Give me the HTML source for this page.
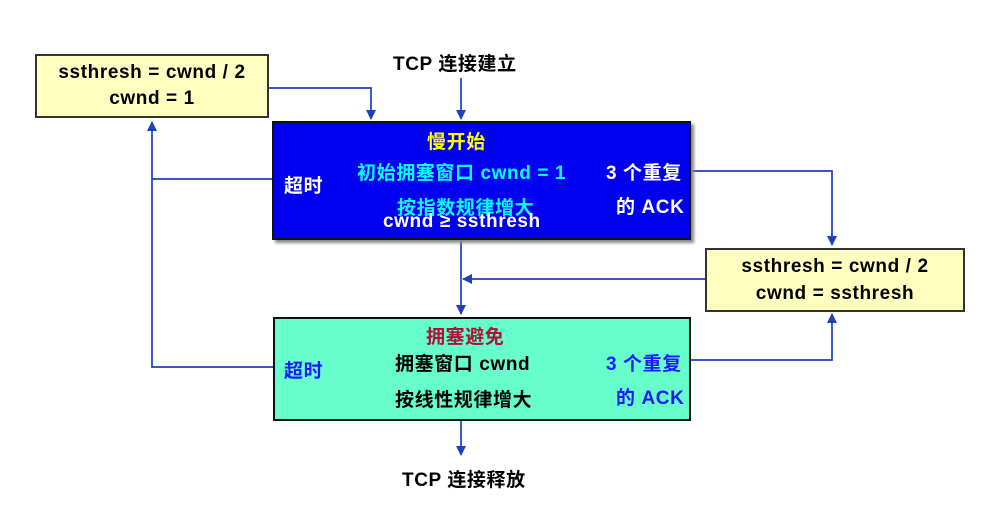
<!DOCTYPE html>
<html><head><meta charset="utf-8"><style>
body{margin:0;width:989px;height:528px;background:#fff;overflow:hidden;position:relative;font-family:"Liberation Sans","Noto Sans CJK SC",sans-serif;font-weight:bold;}
.b{position:absolute;box-sizing:border-box;border:2px solid #111;}
.t{position:absolute;white-space:nowrap;font-size:19px;letter-spacing:0.6px;}
</style></head><body>
<svg width="989" height="528" style="position:absolute;left:0;top:0">
<defs><marker id="a" viewBox="0 0 10 10" refX="9" refY="5" markerWidth="6" markerHeight="6" orient="auto"><path d="M0,0L10,5L0,10z" fill="#1f3fbf"/></marker></defs>
<g stroke="#1f3fbf" stroke-width="1.7" fill="none">
<path d="M268,88H371V119" marker-end="url(#a)"/>
<path d="M461,78V119" marker-end="url(#a)"/>
<path d="M272,179H152"/>
<path d="M273,367H152V122" marker-end="url(#a)"/>
<path d="M690,171H832V245" marker-end="url(#a)"/>
<path d="M690,360H832V314" marker-end="url(#a)"/>
<path d="M461,240V314" marker-end="url(#a)"/>
<path d="M705,279H463" marker-end="url(#a)"/>
<path d="M461,421V455" marker-end="url(#a)"/>
</g></svg>
<div class="b" style="left:35px;top:54px;width:234px;height:64px;background:#ffffc0;border-color:#333"></div>
<div class="t" style="left:35px;top:60px;width:234px;text-align:center;line-height:26px">ssthresh = cwnd / 2<br>cwnd = 1</div>
<div class="b" style="left:705px;top:248px;width:260px;height:64px;background:#ffffc0;border-color:#333"></div>
<div class="t" style="left:705px;top:253px;width:260px;text-align:center;line-height:27px">ssthresh = cwnd / 2<br>cwnd = ssthresh</div>
<div class="t" style="left:393px;top:49px">TCP 连接建立</div>
<div class="t" style="left:402px;top:465px">TCP 连接释放</div>
<div class="b" style="left:272px;top:121px;width:419px;height:119px;background:#0000f0;box-shadow:3px 3px 3px #888"></div>
<div class="t" style="left:427px;top:127px;color:#ff0">慢开始</div>
<div class="t" style="left:357px;top:158px;color:#0ff">初始拥塞窗口 cwnd = 1</div>
<div class="t" style="left:397px;top:193px;color:#0ff">按指数规律增大</div>
<div class="t" style="left:383px;top:211px;color:#fff">cwnd ≥ ssthresh</div>
<div class="t" style="left:284px;top:171px;color:#fff">超时</div>
<div class="t" style="left:606px;top:158px;color:#fff">3 个重复</div>
<div class="t" style="left:616px;top:192px;color:#fff">的 ACK</div>
<div class="b" style="left:273px;top:317px;width:418px;height:104px;background:#66ffcc"></div>
<div class="t" style="left:426px;top:322px;color:#b0103a">拥塞避免</div>
<div class="t" style="left:395px;top:349px">拥塞窗口 cwnd</div>
<div class="t" style="left:395px;top:385px">按线性规律增大</div>
<div class="t" style="left:284px;top:356px;color:#1a1aff">超时</div>
<div class="t" style="left:606px;top:349px;color:#1a1aff">3 个重复</div>
<div class="t" style="left:616px;top:383px;color:#1a1aff">的 ACK</div>
</body></html>
